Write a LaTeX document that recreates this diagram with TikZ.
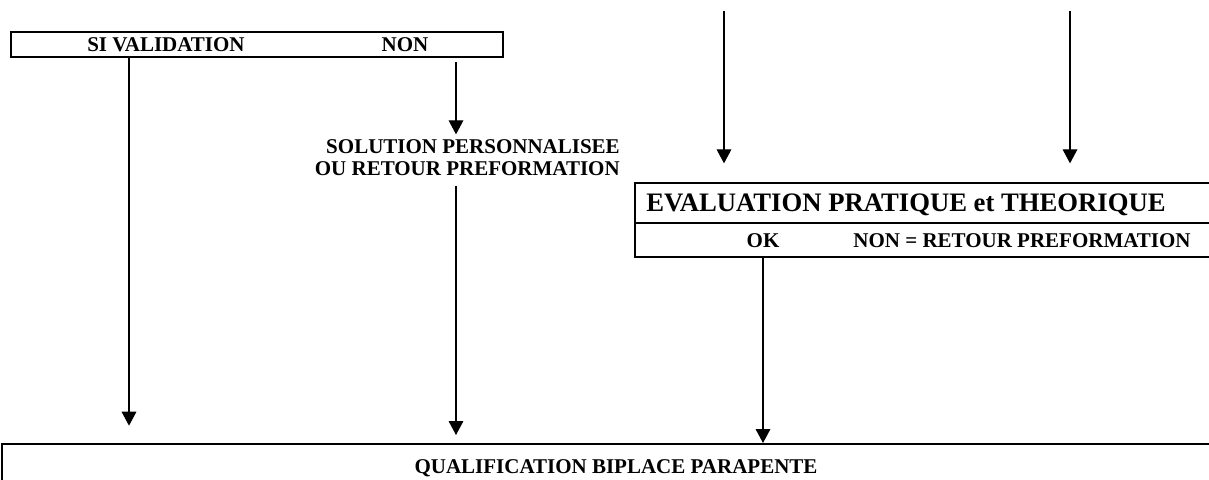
\documentclass[tikz,border=0pt]{standalone}
\usepackage{fontspec}
\setmainfont{Liberation Serif}
\usetikzlibrary{arrows.meta,fit,positioning}

\begin{document}
\begin{tikzpicture}[x=0.75pt,y=-0.75pt,
  box/.style={draw,line width=1.5pt,inner sep=0pt},
  lbl/.style={font=\bfseries\fontsize{15.75}{16.5}\selectfont,inner sep=0pt},
  big/.style={font=\bfseries\fontsize{20}{24}\selectfont,inner sep=0pt},
  arr/.style={line width=0.9pt,-{Triangle[length=10.5pt,width=11pt]}}]
  \path[use as bounding box,clip] (0,0) rectangle (1209,479);

  % colonnes des fleches
  \coordinate (colA) at (129,0);
  \coordinate (colB) at (456,0);
  \coordinate (colD) at (724,11);
  \coordinate (colE) at (1070,11);

  % validation
  \node[box,fit={(11,32) (503,57)}] (valid) {};
  \node[lbl] (si) at (166,45) {SI VALIDATION};
  \node[lbl] (non) at (405,45) {NON};
  \node[lbl,align=right,anchor=east] (perso) at (620,158) {SOLUTION PERSONNALISEE\\OU RETOUR PREFORMATION};

  % evaluation
  \node[box,fit={(635,183) (1215,223)}] (evaltop) {};
  \node[box,fit={(635,223) (1215,257)}] (evalbot) {};
  \node[big,anchor=west] (evaltxt) at (646,205) {EVALUATION PRATIQUE et THEORIQUE};
  \node[lbl] (ok) at (763,241) {OK};
  \node[lbl] (nonret) at (1022,241) {NON = RETOUR PREFORMATION};

  % qualification
  \node[box,fit={(2,444) (1215,500)}] (qual) {};
  \node[lbl] (qualtxt) at (616,468) {QUALIFICATION BIPLACE PARAPENTE};

  % fleches
  \draw[arr,shorten >=13pt] (valid.south -| colA) -- (qual.north -| colA);
  \draw[arr,shorten <=3pt,shorten >=4pt] (valid.south -| colB) -- (perso.north -| colB);
  \draw[arr,shorten <=7pt,shorten >=6pt] (perso.south -| colB) -- (qual.north -| colB);
  \draw[arr,shorten >=14pt] (colD) -- (evaltop.north -| colD);
  \draw[arr,shorten >=14pt] (colE) -- (evaltop.north -| colE);
  \draw[arr] (evalbot.south -| ok) -- (qual.north -| ok);
\end{tikzpicture}
\end{document}
